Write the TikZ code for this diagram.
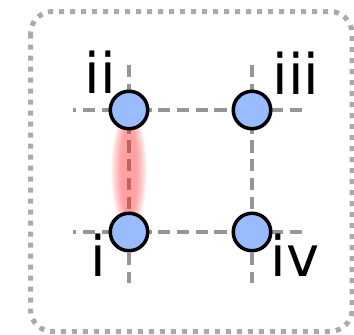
\documentclass[tikz,border=0pt]{standalone}
\usepackage{fontspec}
\usetikzlibrary{calc,backgrounds}
\newfontfamily\labelfont{DejaVu Sans}
\definecolor{gridgray}{RGB}{150,150,150}
\definecolor{framegray}{RGB}{170,170,170}
\definecolor{siteblue}{RGB}{153,187,255}
\definecolor{bondred}{RGB}{255,50,50}
\tikzset{
  site/.style={circle, draw=black, line width=3.5pt, fill=siteblue,
    minimum size=37.5pt, inner sep=0pt},
  gridline/.style={draw=gridgray, line width=3.5pt, dash pattern=on 12.3pt off 6.5pt},
  sitelabel/.style={anchor=base west, inner sep=0pt, outer sep=0pt,
    font=\labelfont\fontsize{56}{60}\selectfont},
  frame/.style={draw=framegray, line width=5pt, dash pattern=on 5pt off 6pt,
    rounded corners=22pt}
}
\begin{document}
\begin{tikzpicture}[x=1pt,y=-1pt]
  \useasboundingbox (0,0) rectangle (354,335);

  % lattice sites
  \node[site] (ii)  at (129,110) {};
  \node[site] (iii) at (252,110) {};
  \node[site] (i)   at (129,232) {};
  \node[site] (iv)  at (252,232) {};

  % free ends of the grid lines
  \coordinate (htl) at (73,110);  \coordinate (htr) at (302,110);
  \coordinate (hbl) at (73,232);  \coordinate (hbr) at (302,232);
  \coordinate (vlt) at (129,65);  \coordinate (vlb) at (129,283);
  \coordinate (vrt) at (252,65);  \coordinate (vrb) at (252,283);

  \begin{scope}[on background layer]
    % dotted outer frame
    \draw[frame] (30.5,11.5) rectangle (352,331.5);

    % dashed lattice lines
    \draw[gridline, dash phase=9pt] (htl) -- (ii.center) -- (iii.center) -- (htr);
    \draw[gridline, dash phase=9pt] (hbl) -- (i.center) -- (iv.center) -- (hbr);
    \draw[gridline] (vlt) -- (ii.center) -- (i.center) -- (vlb);
    \draw[gridline] (vrt) -- (iii.center) -- (iv.center) -- (vrb);

    % soft red glow on the bond between i and ii
    \foreach \k in {0,...,13} {
      \fill[bondred, opacity=0.045]
        ($(ii.center)!0.5!(i.center)$) ellipse ({18-0.8*\k} and {60-0.9*\k});
    }
  \end{scope}

  % site labels
  \node[sitelabel] (lii)  at (84.7,93)  {ii};
  \node[sitelabel] (liii) at (272.7,94) {iii};
  \node[sitelabel] (li)   at (90.7,276) {i};
  \node[sitelabel] (liv)  at (270.7,276) {iv};
\end{tikzpicture}
\end{document}
